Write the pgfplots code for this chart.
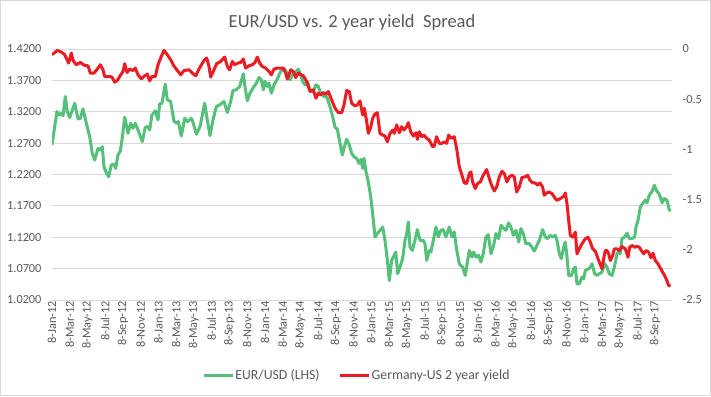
\documentclass[border=0pt]{standalone}
\usepackage{pgfplots}
\usepackage{pgfplotstable}
\pgfplotsset{compat=1.18}
\usepackage{fontspec}
\setmainfont{Carlito}
\definecolor{txt}{RGB}{89,89,89}
\definecolor{gridc}{RGB}{217,217,217}
\definecolor{eurgreen}{RGB}{84,192,122}
\definecolor{spred}{RGB}{236,28,36}

% EUR/USD (left axis): x = months since 8-Jan-2012
\pgfplotstableread{
m v
0.00 1.2670
0.56 1.3203
0.79 1.3149
1.05 1.3176
1.24 1.3134
1.50 1.3443
1.72 1.3203
2.00 1.3107
2.56 1.3336
2.93 1.3086
3.19 1.3091
3.49 1.3246
3.87 1.3017
4.25 1.2803
4.54 1.2537
4.81 1.2430
5.19 1.2617
5.45 1.2590
5.67 1.2643
5.86 1.2324
6.12 1.2228
6.39 1.2164
6.68 1.2350
6.96 1.2366
7.18 1.2297
7.44 1.2510
7.70 1.2574
7.89 1.2750
8.20 1.3112
8.57 1.2857
8.87 1.3017
9.13 1.2937
9.39 1.3017
9.70 1.2910
10.18 1.2723
10.52 1.2953
10.82 1.2963
11.01 1.2910
11.27 1.3149
11.65 1.3214
11.95 1.3070
12.14 1.3326
12.40 1.3336
12.77 1.3640
13.00 1.3390
13.38 1.3363
13.75 1.3050
14.05 1.3017
14.24 1.3043
14.58 1.2814
14.96 1.3096
15.26 1.3043
15.71 1.3096
15.93 1.3017
16.27 1.2841
16.69 1.2963
17.21 1.3336
17.51 1.3070
17.81 1.2819
18.15 1.3070
18.53 1.3283
18.90 1.3310
19.39 1.3363
19.77 1.3187
20.14 1.3363
20.41 1.3539
20.78 1.3550
21.16 1.3603
21.57 1.3805
21.76 1.3603
22.02 1.3374
22.32 1.3496
22.66 1.3576
23.04 1.3656
23.34 1.3747
23.60 1.3709
23.83 1.3550
24.01 1.3683
24.28 1.3603
24.46 1.3656
24.73 1.3496
25.03 1.3629
25.40 1.3720
25.78 1.3843
26.16 1.3885
26.53 1.3816
26.83 1.3709
27.21 1.3816
27.58 1.3843
27.77 1.3880
28.03 1.3789
28.26 1.3683
28.52 1.3629
28.79 1.3683
29.09 1.3550
29.46 1.3523
29.76 1.3629
30.03 1.3603
30.29 1.3496
30.67 1.3443
30.97 1.3443
31.34 1.3283
31.64 1.3123
31.91 1.2952
32.17 1.2921
32.47 1.2697
32.73 1.2510
32.96 1.2643
33.22 1.2761
33.52 1.2670
33.78 1.2537
34.05 1.2484
34.35 1.2457
34.61 1.2377
34.84 1.2441
35.03 1.2297
35.18 1.2457
35.40 1.2244
35.66 1.2084
35.93 1.1844
36.15 1.1577
36.42 1.1204
36.68 1.1258
36.98 1.1311
37.28 1.1364
37.54 1.1151
37.81 1.0831
38.03 1.0511
38.29 1.0831
38.48 1.0884
38.75 1.0964
38.97 1.0618
39.23 1.0724
39.53 1.0858
39.80 1.1151
39.99 1.1258
40.17 1.1444
40.36 1.1044
40.62 1.0991
40.92 1.1151
41.19 1.1322
41.49 1.1151
41.86 1.1151
42.05 1.1098
42.24 1.0831
42.54 1.0991
42.72 1.0964
42.99 1.1151
43.29 1.1364
43.55 1.1204
43.85 1.1311
44.11 1.1322
44.41 1.1204
44.79 1.1364
45.09 1.1204
45.35 1.1284
45.62 1.1002
45.92 1.0778
46.29 1.0725
46.59 1.0591
46.86 1.0831
47.05 1.0991
47.35 1.0884
47.53 1.0964
47.80 1.0884
48.10 1.0911
48.36 1.0804
48.62 1.0938
48.92 1.1204
49.19 1.1242
49.49 1.0938
49.79 1.1071
50.05 1.1258
50.35 1.1178
50.62 1.1391
50.92 1.1338
51.18 1.1311
51.48 1.1428
51.74 1.1364
52.01 1.1231
52.31 1.1311
52.61 1.1124
52.87 1.1338
53.13 1.1258
53.43 1.1098
53.81 1.1098
54.11 1.1044
54.37 1.0980
54.67 1.1071
54.94 1.1151
55.31 1.1322
55.61 1.1204
55.88 1.1178
56.14 1.1231
56.44 1.1204
56.74 1.1231
56.93 1.1151
57.20 1.0938
57.42 1.0858
57.69 1.1044
57.87 1.1124
58.06 1.0884
58.25 1.0591
58.55 1.0591
58.81 1.0698
59.00 1.0724
59.19 1.0458
59.45 1.0458
59.75 1.0565
59.94 1.0538
60.13 1.0671
60.50 1.0698
60.69 1.0724
60.88 1.0778
61.18 1.0618
61.44 1.0591
61.71 1.0618
62.01 1.0645
62.31 1.0778
62.57 1.0724
62.83 1.0618
63.13 1.0591
63.40 1.0724
63.70 1.0938
63.89 1.0964
64.07 1.0938
64.26 1.1178
64.56 1.1204
64.83 1.1268
65.09 1.1178
65.39 1.1178
65.69 1.1204
65.84 1.1364
66.07 1.1471
66.33 1.1684
66.59 1.1737
66.89 1.1791
67.08 1.1748
67.27 1.1844
67.46 1.1897
67.64 1.1924
67.91 1.2030
68.13 1.1950
68.40 1.1897
68.58 1.1844
68.77 1.1748
69.03 1.1817
69.33 1.1791
69.60 1.1631
69.78 1.1641
}\eurusd

% Germany-US 2 year yield spread (right axis)
\pgfplotstableread{
m s
0.00 -0.057
0.60 -0.014
1.05 -0.030
1.43 -0.057
1.88 -0.140
2.18 -0.040
2.37 -0.114
2.74 -0.157
3.19 -0.134
3.68 -0.164
4.06 -0.167
4.32 -0.240
4.73 -0.240
5.11 -0.200
5.45 -0.157
5.75 -0.207
5.94 -0.274
6.50 -0.274
6.76 -0.280
7.07 -0.330
7.36 -0.314
7.63 -0.274
8.00 -0.224
8.20 -0.147
8.46 -0.234
8.76 -0.200
9.13 -0.214
9.39 -0.190
9.70 -0.257
10.07 -0.297
10.45 -0.267
10.74 -0.250
11.01 -0.317
11.27 -0.274
11.65 -0.274
11.95 -0.157
12.32 -0.074
12.63 -0.014
13.00 -0.057
13.38 -0.107
13.75 -0.170
14.13 -0.214
14.51 -0.257
14.88 -0.214
15.45 -0.207
15.82 -0.240
16.20 -0.267
16.57 -0.200
17.14 -0.114
17.44 -0.090
17.70 -0.174
17.89 -0.280
18.26 -0.207
18.56 -0.147
19.02 -0.124
19.47 -0.080
19.77 -0.174
20.03 -0.207
20.33 -0.124
20.59 -0.157
20.97 -0.140
21.27 -0.134
21.57 -0.100
21.83 -0.190
22.21 -0.167
22.58 -0.157
22.89 -0.134
23.15 -0.080
23.45 -0.147
23.71 -0.174
24.09 -0.190
24.46 -0.224
24.73 -0.257
25.03 -0.200
25.40 -0.190
25.78 -0.190
26.08 -0.190
26.34 -0.240
26.53 -0.300
26.91 -0.207
27.21 -0.224
27.47 -0.284
27.77 -0.240
28.03 -0.255
28.33 -0.267
28.71 -0.324
29.09 -0.424
29.46 -0.407
29.76 -0.490
30.03 -0.440
30.29 -0.457
30.59 -0.434
30.89 -0.450
31.15 -0.424
31.53 -0.507
31.91 -0.590
32.28 -0.634
32.66 -0.634
32.92 -0.557
33.22 -0.414
33.52 -0.424
33.78 -0.540
34.16 -0.567
34.42 -0.557
34.72 -0.517
35.03 -0.657
35.21 -0.590
35.48 -0.724
35.66 -0.840
35.93 -0.780
36.15 -0.690
36.42 -0.647
36.68 -0.634
36.98 -0.840
37.28 -0.857
37.54 -0.867
37.81 -0.924
38.11 -0.840
38.41 -0.807
38.59 -0.840
38.86 -0.757
39.16 -0.834
39.42 -0.774
39.68 -0.807
39.99 -0.774
40.17 -0.734
40.44 -0.824
40.74 -0.867
41.04 -0.834
41.19 -0.900
41.41 -0.824
41.68 -0.874
41.94 -0.857
42.24 -0.890
42.54 -0.907
42.91 -0.974
43.10 -0.967
43.36 -0.874
43.66 -0.940
43.96 -0.940
44.23 -0.924
44.49 -0.940
44.72 -0.857
44.98 -0.890
45.35 -0.874
45.65 -1.007
45.92 -1.174
46.22 -1.257
46.48 -1.334
46.74 -1.340
47.05 -1.240
47.23 -1.224
47.42 -1.324
47.72 -1.390
47.98 -1.340
48.29 -1.324
48.62 -1.257
49.00 -1.200
49.30 -1.290
49.56 -1.357
49.86 -1.414
50.13 -1.374
50.43 -1.274
50.73 -1.217
50.99 -1.240
51.29 -1.324
51.56 -1.274
51.86 -1.257
52.12 -1.274
52.38 -1.424
52.68 -1.374
52.98 -1.280
53.32 -1.274
53.62 -1.257
53.88 -1.307
54.19 -1.334
54.49 -1.334
54.75 -1.357
55.01 -1.334
55.31 -1.374
55.50 -1.457
55.76 -1.434
56.06 -1.424
56.37 -1.440
56.74 -1.490
56.93 -1.507
57.31 -1.490
57.69 -1.467
57.87 -1.434
58.06 -1.540
58.25 -1.707
58.44 -1.857
58.70 -1.874
59.00 -1.824
59.19 -2.040
59.45 -1.990
59.75 -1.940
60.13 -1.890
60.43 -1.874
60.69 -1.924
60.95 -1.990
61.26 -2.014
61.56 -2.090
61.82 -2.147
62.01 -2.190
62.19 -2.090
62.38 -2.007
62.57 -2.007
62.76 -2.040
62.95 -2.107
63.21 -2.057
63.40 -1.990
63.70 -1.990
63.96 -2.007
64.26 -1.967
64.45 -1.980
64.64 -1.990
64.94 -2.074
65.13 -1.974
65.39 -1.957
65.69 -1.974
65.95 -1.967
66.22 -1.974
66.44 -2.007
66.71 -2.040
66.97 -2.007
67.27 -2.024
67.53 -2.080
67.76 -2.034
68.02 -2.107
68.32 -2.140
68.58 -2.180
68.85 -2.224
69.07 -2.257
69.33 -2.307
69.52 -2.357
69.75 -2.357
}\spread

\pgfplotsset{
  base/.style={
    scale only axis, width=620pt, height=251pt,
    at={(52pt,96pt)}, anchor=south west,
    xmin=0, xmax=69.9,
    axis line style={draw=none},
    major tick length=0pt,
    tick label style={font=\fontsize{12.3}{14}\selectfont, text=txt},
  }
}

\begin{document}
\begin{tikzpicture}[x=1pt,y=1pt]
\fill[white] (0,0) rectangle (711,396);
\draw[gray!30, line width=0.8pt] (0.5,0.5) rectangle (710.5,395.5);
\node[font=\fontsize{18.5}{22}\selectfont, text=txt] at (352,373) {EUR/USD vs. 2 year yield\ \ Spread};

\begin{axis}[base,
  ymin=1.02, ymax=1.42,
  ytick={1.02,1.07,1.12,1.17,1.22,1.27,1.32,1.37,1.42},
  yticklabels={1.0200,1.0700,1.1200,1.1700,1.2200,1.2700,1.3200,1.3700,1.4200},
  ymajorgrids, grid style={gridc, line width=0.9pt},
  xtick={0,2,...,68},
  xticklabels={8-Jan-12,8-Mar-12,8-May-12,8-Jul-12,8-Sep-12,8-Nov-12,
    8-Jan-13,8-Mar-13,8-May-13,8-Jul-13,8-Sep-13,8-Nov-13,
    8-Jan-14,8-Mar-14,8-May-14,8-Jul-14,8-Sep-14,8-Nov-14,
    8-Jan-15,8-Mar-15,8-May-15,8-Jul-15,8-Sep-15,8-Nov-15,
    8-Jan-16,8-Mar-16,8-May-16,8-Jul-16,8-Sep-16,8-Nov-16,
    8-Jan-17,8-Mar-17,8-May-17,8-Jul-17,8-Sep-17},
  xticklabel style={rotate=90, anchor=east, inner sep=1pt},
  yticklabel style={anchor=east, xshift=-7pt},
  legend style={at={(0.491,-0.299)}, anchor=center, draw=none, fill=none,
    legend columns=2, font=\fontsize{13.8}{16}\selectfont, text=txt,
    nodes={inner sep=1pt},
    /tikz/every even column/.append style={column sep=18pt}},
  legend image code/.code={\draw[#1] (0pt,0pt) -- (29pt,0pt);},
]
\addplot[eurgreen, line width=3pt, line join=round] table[x=m, y=v] {\eurusd};
\addlegendentry{EUR/USD (LHS)}
\addlegendimage{spred, line width=3pt}
\addlegendentry{Germany-US 2 year yield}
\end{axis}

\begin{axis}[base,
  ymin=-2.5, ymax=0,
  xtick=\empty,
  ytick={-2.5,-2,-1.5,-1,-0.5,0},
  yticklabels={-2.5,-2,-1.5,-1,-0.5,0},
  yticklabel pos=right,
  yticklabel style={anchor=west, xshift=7pt},
]
\addplot[spred, line width=3pt, line join=round] table[x=m, y=s] {\spread};
\end{axis}
\end{tikzpicture}
\end{document}
